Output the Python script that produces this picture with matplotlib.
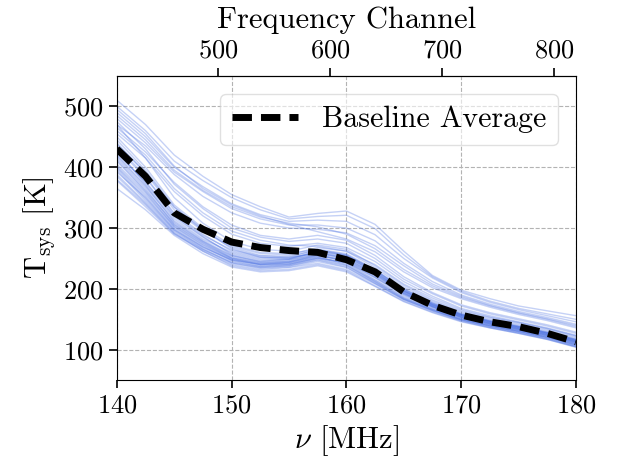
import matplotlib
matplotlib.use("Agg")
import matplotlib.pyplot as plt
import numpy as np

plt.rcParams['font.family'] = 'serif'
plt.rcParams['font.serif'] = ['cmr10']
plt.rcParams['mathtext.fontset'] = 'cm'
plt.rcParams['axes.formatter.use_mathtext'] = True

# frequency grid (MHz)
freqs = [140, 142.5, 145, 147.5, 150, 152.5, 155, 157.5, 160, 162.5, 165, 167.5, 170, 172.5, 175, 177.5, 180]

# T_sys per antenna
tsys = [
    [440, 390, 330, 295, 268, 255, 252, 258, 250, 225, 197, 176, 158, 147, 138, 128, 116],
    [425, 375, 318, 285, 258, 248, 248, 256, 245, 220, 192, 172, 155, 144, 135, 125, 113],
    [410, 360, 305, 275, 250, 240, 242, 252, 242, 215, 188, 168, 152, 141, 132, 122, 110],
    [400, 352, 300, 270, 246, 236, 238, 248, 238, 212, 185, 166, 150, 139, 130, 120, 108],
    [395, 345, 296, 266, 243, 234, 236, 245, 235, 210, 183, 165, 149, 138, 129, 119, 106],
    [385, 340, 292, 262, 240, 232, 235, 242, 232, 208, 182, 164, 148, 137, 128, 118, 105],
    [450, 400, 338, 300, 272, 260, 258, 265, 256, 230, 200, 178, 160, 149, 140, 130, 118],
    [432, 382, 325, 290, 262, 252, 250, 262, 254, 228, 196, 174, 157, 146, 137, 127, 115],
    [418, 368, 312, 280, 255, 244, 245, 255, 246, 222, 193, 171, 154, 143, 134, 124, 112],
    [405, 358, 302, 272, 248, 238, 240, 250, 243, 218, 190, 170, 153, 142, 133, 123, 111],
    [378, 335, 290, 262, 238, 230, 232, 240, 230, 205, 180, 162, 147, 136, 127, 117, 104],
    [365, 330, 288, 258, 236, 228, 230, 238, 228, 204, 179, 161, 146, 136, 127, 117, 105],
    [445, 395, 335, 296, 270, 258, 256, 268, 262, 235, 203, 180, 162, 151, 142, 132, 120],
    [428, 372, 315, 282, 260, 250, 252, 265, 258, 232, 200, 177, 159, 148, 139, 129, 117],
    [412, 362, 308, 278, 254, 245, 248, 260, 250, 225, 195, 173, 156, 145, 136, 126, 114],
    [392, 350, 298, 268, 247, 240, 243, 253, 240, 214, 186, 167, 151, 140, 131, 121, 109],
    [470, 415, 350, 308, 278, 265, 262, 272, 265, 238, 206, 182, 164, 153, 144, 134, 122],
    [388, 342, 294, 265, 244, 237, 240, 250, 239, 212, 184, 166, 150, 140, 131, 121, 108],
    [420, 370, 310, 278, 252, 242, 244, 256, 248, 224, 194, 172, 155, 144, 135, 125, 113],
    [435, 385, 322, 288, 264, 254, 254, 264, 255, 230, 198, 175, 158, 147, 138, 128, 116],
    [402, 355, 303, 273, 250, 240, 241, 251, 244, 219, 191, 170, 154, 143, 134, 124, 112],
    [415, 365, 306, 276, 251, 243, 246, 258, 252, 228, 197, 174, 157, 146, 137, 127, 115],
    [398, 348, 297, 269, 248, 241, 244, 254, 247, 223, 193, 171, 153, 142, 133, 123, 110],
    [422, 376, 320, 286, 256, 246, 249, 262, 256, 231, 199, 176, 158, 147, 138, 128, 117],
    [380, 338, 291, 264, 242, 235, 238, 247, 236, 209, 183, 164, 149, 139, 130, 120, 107],
    [438, 392, 334, 298, 266, 252, 250, 260, 253, 227, 196, 174, 156, 145, 136, 126, 114],
    [460, 420, 365, 325, 295, 280, 272, 270, 262, 240, 208, 185, 166, 154, 145, 135, 123],
    [455, 415, 360, 320, 290, 275, 270, 275, 268, 245, 212, 188, 168, 156, 146, 136, 124],
    [475, 430, 372, 332, 300, 285, 278, 282, 275, 250, 216, 192, 172, 159, 149, 139, 127],
    [465, 425, 375, 335, 305, 288, 282, 288, 280, 255, 220, 194, 174, 161, 151, 141, 129],
    [510, 470, 420, 385, 355, 335, 318, 324, 328, 306, 262, 222, 198, 184, 172, 164, 156],
    [500, 460, 410, 378, 350, 330, 315, 319, 321, 299, 256, 220, 196, 180, 168, 159, 150],
    [490, 450, 400, 368, 340, 322, 311, 313, 311, 289, 250, 218, 194, 178, 166, 156, 146],
    [480, 440, 392, 360, 332, 315, 305, 305, 300, 279, 242, 212, 190, 175, 163, 153, 142],
    [470, 435, 388, 352, 325, 308, 300, 298, 292, 271, 238, 208, 188, 173, 161, 151, 140],
    [485, 445, 395, 362, 335, 318, 308, 302, 290, 266, 232, 205, 186, 172, 160, 150, 138],
    [495, 455, 402, 365, 338, 320, 306, 294, 282, 261, 228, 202, 184, 170, 158, 148, 136],
]

avg = [430, 385, 325, 298, 277, 268, 263, 260, 248, 228, 195, 173, 157, 146, 138, 127, 113]

def f2c(f):
    return (np.asarray(f) - 100.0) * 1024 / 100.0
def c2f(c):
    return 100.0 + np.asarray(c) * 100.0 / 1024

fig = plt.figure(figsize=(6.18, 4.57), dpi=100)
ax = fig.add_axes([0.189, 0.168, 0.743, 0.666])
for t in tsys:
    ax.plot(freqs, t, color='royalblue', alpha=0.3, lw=1)
ax.plot(freqs, avg, color='k', lw=5, dashes=(2.8, 1.3), label='Baseline Average')

ax.set_xlim(140, 180)
ax.set_ylim(50, 550)
ax.set_xticks([140, 150, 160, 170, 180])
ax.set_yticks([100, 200, 300, 400, 500])
ax.grid(True, ls='--', color='0.7', lw=0.8)
ax.tick_params(labelsize=19, length=6, width=1.2)
ax.set_xlabel(r'$\nu$ [MHz]', fontsize=22)
ax.set_ylabel(r'$\mathrm{T_{sys}}$ [K]', fontsize=22)

top = ax.secondary_xaxis('top', functions=(f2c, c2f))
top.set_xticks([500, 600, 700, 800])
top.tick_params(labelsize=19, length=6, width=1.2)
top.set_xlabel('Frequency Channel', fontsize=22, labelpad=8)

ax.legend(loc='upper right', fontsize=21.5, handlelength=2.2, framealpha=0.6,
          borderaxespad=0.6)

fig.savefig('out.png', dpi=100)
